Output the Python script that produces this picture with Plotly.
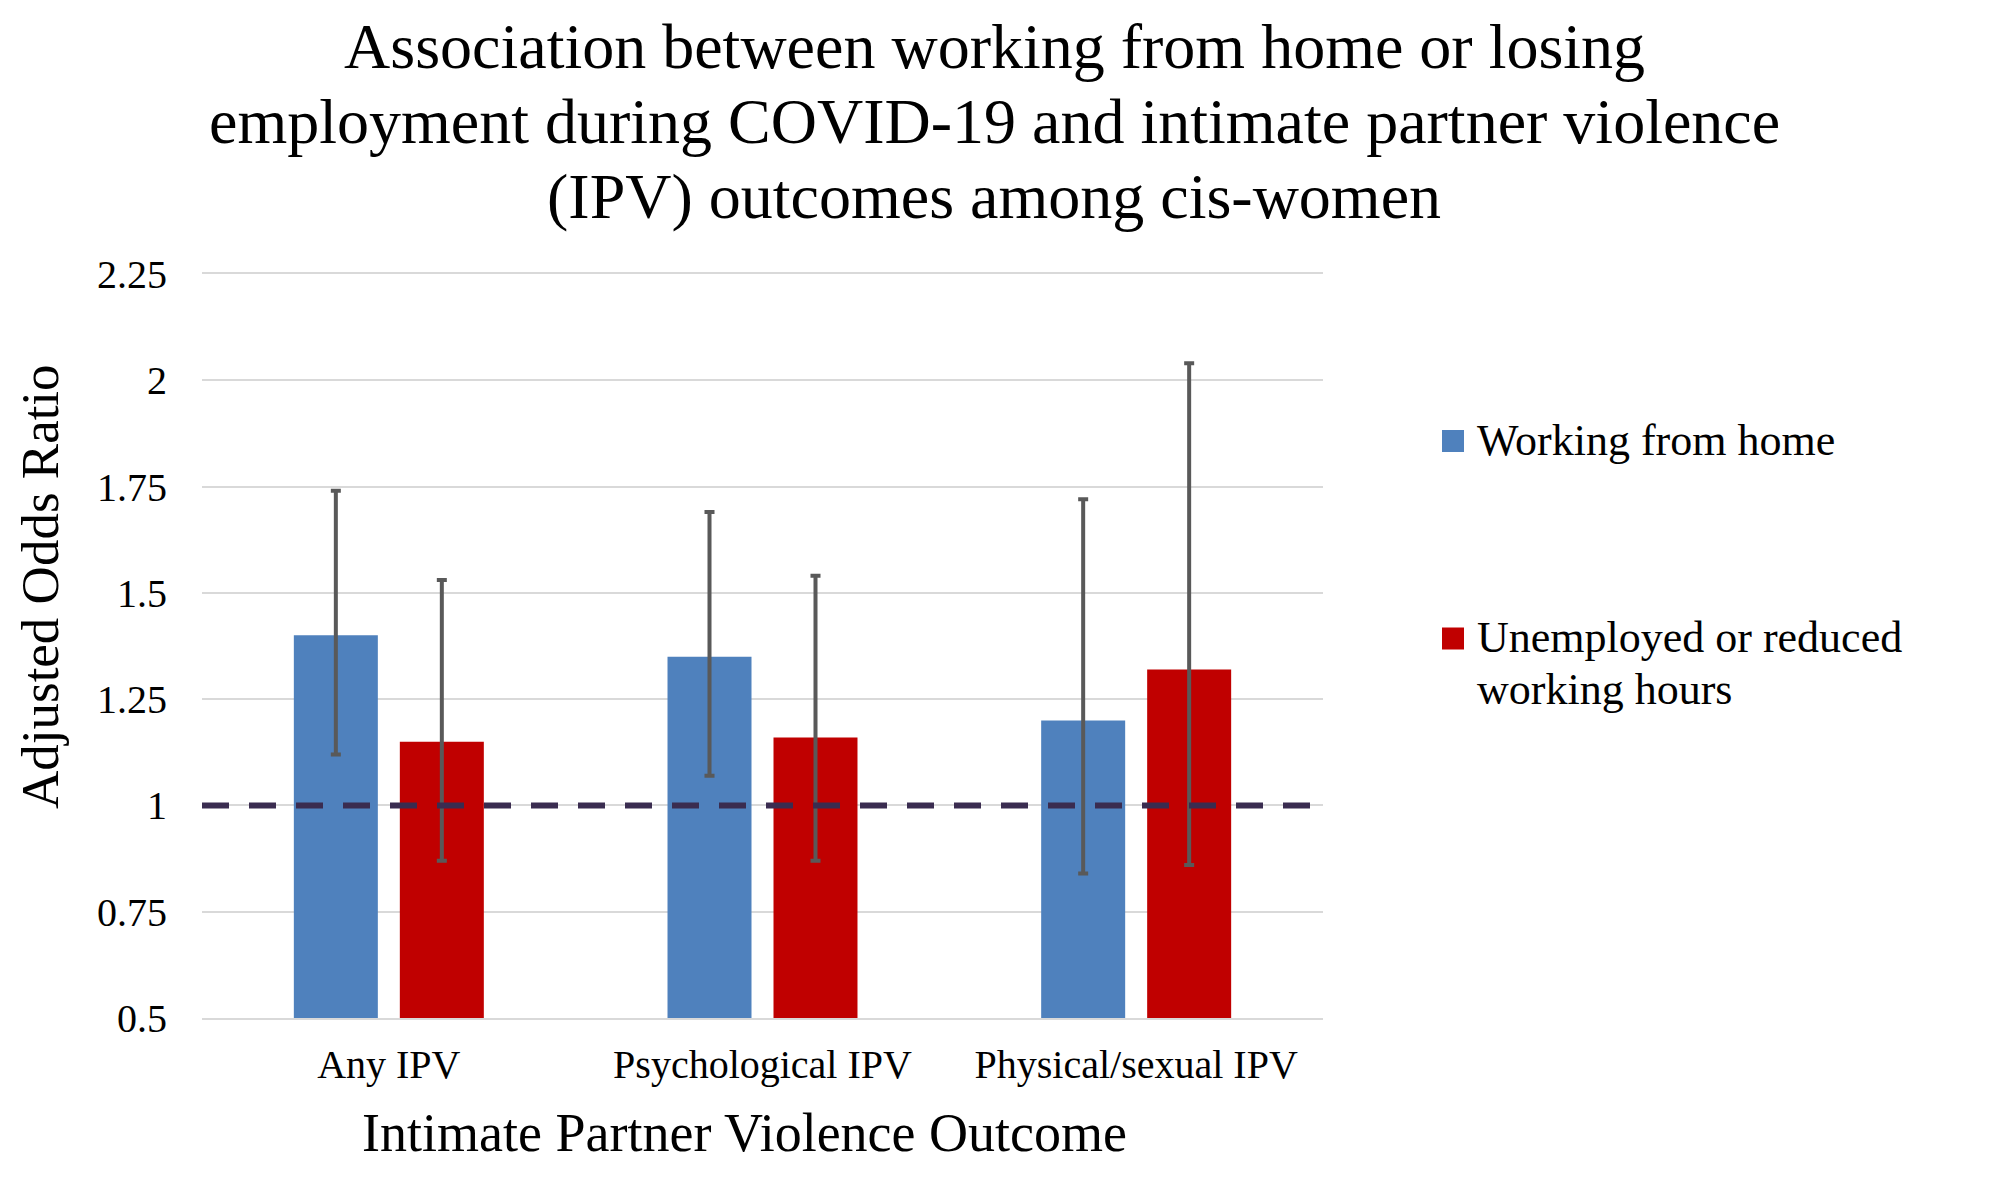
import plotly.graph_objects as go

categories = ["Any IPV", "Psychological IPV", "Physical/sexual IPV"]
series_names = ["Working from home", "Unemployed or reduced working hours"]
legend_lines = [["Working from home"], ["Unemployed or reduced", "working hours"]]
wfh_aor = [1.40, 1.35, 1.20]
wfh_lower = [1.12, 1.07, 0.84]
wfh_upper = [1.74, 1.69, 1.72]
unemp_aor = [1.15, 1.16, 1.32]
unemp_lower = [0.87, 0.87, 0.86]
unemp_upper = [1.53, 1.54, 2.04]
y_tickvals = [0.5, 0.75, 1, 1.25, 1.5, 1.75, 2, 2.25]
y_ticktext = ["0.5", "0.75", "1", "1.25", "1.5", "1.75", "2", "2.25"]
reference_aor = 1.0
title_lines = [
    "Association between working from home or losing",
    "employment during COVID-19 and intimate partner violence",
    "(IPV) outcomes among cis-women",
]
x_title = "Intimate Partner Violence Outcome"
y_title = "Adjusted Odds Ratio"

BLUE = "#4F81BD"
RED = "#C00000"
ERR = "#595959"
GRID = "#D9D9D9"
FONT = "Liberation Serif, Times New Roman, serif"

W, H = 2008, 1182
L, R, T, B = 202, 685, 274, 164
PW, PH = W - L - R, H - T - B


def px_x(px):
    return (px - L) / PW


def px_y(py):
    return (H - B - py) / PH


def err(vals, lo, hi):
    return dict(
        type="data", symmetric=False,
        array=[h - v for v, h in zip(vals, hi)],
        arrayminus=[v - l for v, l in zip(vals, lo)],
        color=ERR, thickness=4, width=5,
    )


fig = go.Figure()
fig.add_trace(go.Bar(
    x=categories, y=wfh_aor, name=series_names[0],
    marker=dict(color=BLUE, line=dict(width=0)),
    error_y=err(wfh_aor, wfh_lower, wfh_upper), showlegend=False,
))
fig.add_trace(go.Bar(
    x=categories, y=unemp_aor, name=series_names[1],
    marker=dict(color=RED, line=dict(width=0)),
    error_y=err(unemp_aor, unemp_lower, unemp_upper), showlegend=False,
))

# reference line at AOR = 1
fig.add_shape(type="line", xref="paper", yref="y", x0=0, x1=1,
              y0=reference_aor, y1=reference_aor,
              line=dict(color="#3A2C50", width=6, dash="27px,20px"), layer="above")

annotations = []
# title lines
for text, cy in zip(title_lines, [47, 122, 196]):
    annotations.append(dict(text=text, xref="paper", yref="paper",
                            x=px_x(994), y=px_y(cy), xanchor="center", yanchor="middle",
                            showarrow=False, font=dict(family=FONT, size=64, color="#000000")))
# axis titles
annotations.append(dict(text=x_title, xref="paper", yref="paper",
                        x=px_x(744), y=px_y(1133), xanchor="center", yanchor="middle",
                        showarrow=False, font=dict(family=FONT, size=54, color="#000000")))
annotations.append(dict(text=y_title, xref="paper", yref="paper", textangle=-90,
                        x=px_x(40), y=px_y(587), xanchor="center", yanchor="middle",
                        showarrow=False, font=dict(family=FONT, size=53, color="#000000")))
# legend (custom swatches + labels)
legend_items = [(legend_lines[0], BLUE, 441, [440]),
                (legend_lines[1], RED, 638.5, [637, 689])]
for lines, color, sy, tys in legend_items:
    fig.add_shape(type="rect", xref="paper", yref="paper",
                  x0=px_x(1442), x1=px_x(1464), y0=px_y(sy + 11), y1=px_y(sy - 11),
                  fillcolor=color, line=dict(width=0))
    for line, ty in zip(lines, tys):
        annotations.append(dict(text=line, xref="paper", yref="paper",
                                x=px_x(1475), y=px_y(ty), xanchor="left", yanchor="middle",
                                align="left", showarrow=False,
                                font=dict(family=FONT, size=44, color="#000000")))

fig.update_layout(
    width=W, height=H,
    margin=dict(l=L, r=R, t=T, b=B, pad=0),
    paper_bgcolor="white", plot_bgcolor="white",
    barmode="group", bargap=0.4327, bargroupgap=0.2075,
    font=dict(family=FONT, color="#000000"),
    annotations=annotations,
    showlegend=False,
)
fig.update_xaxes(showgrid=False, zeroline=False,
                 showline=True, mirror=True, linecolor=GRID, linewidth=2,
                 tickfont=dict(family=FONT, size=40, color="#000000"),
                 ticklabelstandoff=10)
fig.update_yaxes(range=[0.5, 2.25], tickvals=y_tickvals, ticktext=y_ticktext,
                 showgrid=True, gridcolor=GRID, gridwidth=2,
                 zeroline=False, showline=False,
                 tickfont=dict(family=FONT, size=40, color="#000000"),
                 ticklabelstandoff=34)

fig.write_html("out.html", config={"displayModeBar": False},
               post_script="document.body.style.margin='0';")
